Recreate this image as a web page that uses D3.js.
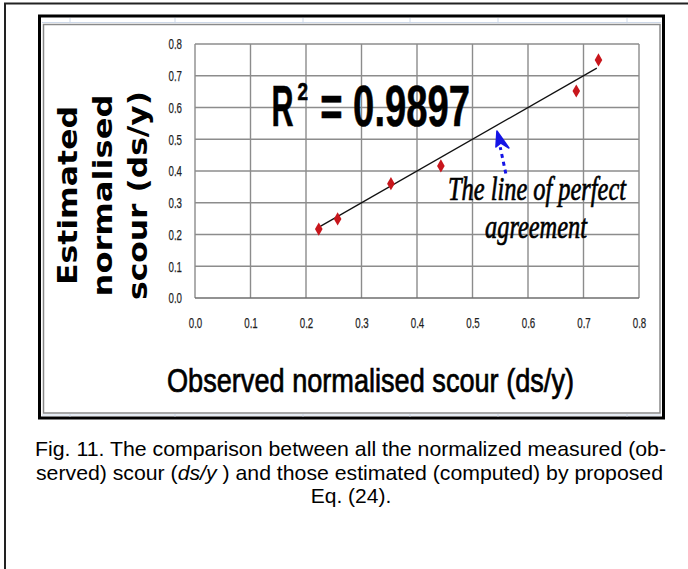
<!DOCTYPE html>
<html>
<head>
<meta charset="utf-8">
<script src="https://cdn.jsdelivr.net/npm/d3@7"></script>
<style>
    body { margin: 0; background: #fff; }
    svg { display: block; }
</style>
</head>
<body>
<div class="scourChart"></div>
<script>
// observed vs estimated normalised scour (ds/y)
var observed = [0.223, 0.257, 0.353, 0.443, 0.687, 0.727];
var estimated = [0.217, 0.249, 0.360, 0.416, 0.652, 0.750];
var tickValues = [0, 0.1, 0.2, 0.3, 0.4, 0.5, 0.6, 0.7, 0.8];
var perfectLine = [0.221, 0.724];
var r2Value = "0.9897";
var yTitleLines = ["Estimated", "normalised", "scour (ds/y)"];
var xTitle = "Observed normalised scour (ds/y)";
var noteLines = ["The line of perfect", "agreement"];

var width = 688, height = 569
    , plot = { left: 195, right: 639, top: 44, bottom: 298 };

var svg = d3.select(".scourChart").append("svg")
    .attr("width", width)
    .attr("height", height);

// page border (left + top only)
svg.append("path")
    .attr("d", "M5,569V3.5H688")
    .attr("fill", "none")
    .attr("stroke", "#222")
    .attr("stroke-width", 2);

// chart frame, thick black + thin grey inside
svg.append("rect")
    .attr("x", 39.5).attr("y", 16)
    .attr("width", 624).attr("height", 402)
    .attr("fill", "none")
    .attr("stroke", "#000")
    .attr("stroke-width", 3);
svg.append("rect")
    .attr("x", 43.5).attr("y", 24.5)
    .attr("width", 616.5).attr("height", 388.5)
    .attr("fill", "none")
    .attr("stroke", "#8a8a8a")
    .attr("stroke-width", 1.5);

// faint spreadsheet cell lines showing between the frames
var cellX = [70, 175, 303, 410, 498, 627];
const cells = svg.append("g")
    .attr("stroke", "#cdd8e8")
    .attr("stroke-width", 1);
cells.append("line").attr("x1", 42).attr("x2", 661).attr("y1", 22.5).attr("y2", 22.5);
cells.append("line").attr("x1", 42).attr("x2", 661).attr("y1", 415).attr("y2", 415);
cells.selectAll(".ct")
    .data(cellX)
    .enter().append("line")
    .attr("x1", d => d).attr("x2", d => d)
    .attr("y1", 18).attr("y2", 23.5);
cells.selectAll(".cb")
    .data(cellX)
    .enter().append("line")
    .attr("x1", d => d).attr("x2", d => d)
    .attr("y1", 414).attr("y2", 416.5);

var x = d3.scaleLinear()
    .domain([0, 0.8])
    .range([plot.left, plot.right]);
var y = d3.scaleLinear()
    .domain([0, 0.8])
    .range([plot.bottom, plot.top]);

// grid
const grid = svg.append("g")
    .attr("stroke", "#8c8c8c")
    .attr("stroke-width", 1.4);
grid.selectAll(".gx")
    .data(tickValues)
    .enter().append("line")
    .attr("x1", d => x(d)).attr("x2", d => x(d))
    .attr("y1", plot.top).attr("y2", plot.bottom);
grid.selectAll(".gy")
    .data(tickValues)
    .enter().append("line")
    .attr("x1", plot.left).attr("x2", plot.right)
    .attr("y1", d => y(d)).attr("y2", d => y(d))
    .attr("stroke", d => d === 0 ? "#6e6e6e" : null);

var fmt = d3.format(".1f");
var sansFont = "'Liberation Sans', Arial, sans-serif";

var yAxis = svg.append("g")
    .attr("transform", "translate(" + plot.left + ",0)")
    .call(d3.axisLeft(y).tickValues(tickValues).tickFormat(fmt).tickSize(0).tickPadding(13));
var xAxis = svg.append("g")
    .attr("transform", "translate(0," + plot.bottom + ")")
    .call(d3.axisBottom(x).tickValues(tickValues).tickFormat(fmt).tickSize(0).tickPadding(19));
[yAxis, xAxis].forEach(function (ax) {
    ax.select(".domain").remove();
    ax.selectAll("text")
        .attr("fill", "#1e1e1e")
        .attr("stroke", "#1e1e1e")
        .attr("stroke-width", 0.25)
        .style("font-family", sansFont)
        .style("font-size", "15px")
        .attr("textLength", 13.5)
        .attr("lengthAdjust", "spacingAndGlyphs");
});

// line of perfect agreement
svg.append("path")
    .datum(perfectLine)
    .attr("fill", "none")
    .attr("stroke", "#111")
    .attr("stroke-width", 1.3)
    .attr("d", d3.line().x(d => x(d)).y(d => y(d)));

// points
svg.append("g")
    .selectAll("path")
    .data(observed)
    .enter().append("path")
    .attr("transform", (d, i) => "translate(" + x(d) + "," + y(estimated[i]) + ")")
    .attr("d", d3.symbol().type(d3.symbolDiamond).size(50))
    .attr("fill", "#c8161c");

// R^2 label: R, superscript 2, then the value
var r2Base = y(0.543);
const r2 = svg.append("g")
    .attr("fill", "#000")
    .attr("stroke", "#000")
    .attr("stroke-width", 0.6)
    .style("font-family", sansFont)
    .style("font-weight", "bold");
r2.append("text")
    .attr("x", x(0.138)).attr("y", r2Base)
    .style("font-size", "58px")
    .attr("textLength", 22)
    .attr("lengthAdjust", "spacingAndGlyphs")
    .text("R");
r2.append("text")
    .attr("x", x(0.1845)).attr("y", r2Base - 25.5)
    .style("font-size", "23px")
    .attr("textLength", 10.5)
    .attr("lengthAdjust", "spacingAndGlyphs")
    .text("2");
r2.append("text")
    .attr("x", x(0.2255)).attr("y", r2Base)
    .style("font-size", "58px")
    .attr("textLength", 150)
    .attr("lengthAdjust", "spacingAndGlyphs")
    .text("= " + r2Value);

// annotation arrow (blue dotted)
var arrowTail = [0.560, 0.392], arrowTip = [0.544, 0.526];
svg.append("line")
    .attr("x1", x(arrowTail[0])).attr("y1", y(arrowTail[1]))
    .attr("x2", x(0.550)).attr("y2", y(0.475))
    .attr("stroke", "#1414e6")
    .attr("stroke-width", 3)
    .attr("stroke-dasharray", "4,4");
var tx = x(arrowTip[0]), ty = y(arrowTip[1]);
svg.append("path")
    .attr("d", "M" + tx + "," + ty
        + "L" + (tx + 12) + "," + (ty + 17)
        + "L" + (tx + 4) + "," + (ty + 12)
        + "L" + (tx - 1) + "," + (ty + 16)
        + "Z")
    .attr("fill", "#1414e6")
    .attr("stroke", "#1414e6")
    .attr("stroke-width", 1.5)
    .attr("stroke-linejoin", "round");

var noteFont = "'Liberation Serif', 'Times New Roman', serif";
var noteX = [448, 485], noteY = [200, 238], noteLen = [178, 102];
svg.append("g")
    .selectAll("text")
    .data(noteLines)
    .enter().append("text")
    .attr("x", (d, i) => noteX[i]).attr("y", (d, i) => noteY[i])
    .attr("fill", "#000")
    .attr("stroke", "#000")
    .attr("stroke-width", 0.7)
    .style("font-family", noteFont)
    .style("font-style", "italic")
    .style("font-size", "34px")
    .attr("textLength", (d, i) => noteLen[i])
    .attr("lengthAdjust", "spacingAndGlyphs")
    .text(d => d);

// y axis title
var yTitleLen = [179, 202, 209], yTitleBase = [77, 112, 147];
svg.append("g")
    .selectAll("text")
    .data(yTitleLines)
    .enter().append("text")
    .attr("transform", (d, i) => "translate(" + yTitleBase[i] + ",195.5) rotate(-90)")
    .attr("text-anchor", "middle")
    .style("font-family", "'DejaVu Sans', Verdana, sans-serif")
    .style("font-weight", "bold")
    .style("font-size", "27px")
    .attr("textLength", (d, i) => yTitleLen[i])
    .attr("lengthAdjust", "spacingAndGlyphs")
    .text(d => d);

// x axis title
svg.append("text")
    .attr("x", 167).attr("y", 392)
    .attr("fill", "#000")
    .attr("stroke", "#000")
    .attr("stroke-width", 0.7)
    .style("font-family", sansFont)
    .style("font-size", "33px")
    .attr("textLength", 407)
    .attr("lengthAdjust", "spacingAndGlyphs")
    .text(xTitle);

// caption
var capSize = "21px";
svg.append("text")
    .attr("x", 35).attr("y", 456)
    .style("font-family", sansFont).style("font-size", capSize)
    .attr("fill", "#000")
    .attr("textLength", 631)
    .attr("lengthAdjust", "spacingAndGlyphs")
    .text("Fig. 11. The comparison between all the normalized measured (ob-");
var cap2 = svg.append("text")
    .attr("x", 36).attr("y", 479.5)
    .style("font-family", sansFont).style("font-size", capSize)
    .attr("fill", "#000")
    .attr("textLength", 627)
    .attr("lengthAdjust", "spacingAndGlyphs");
cap2.append("tspan").text("served) scour (");
cap2.append("tspan").style("font-style", "italic").text("ds/y");
cap2.append("tspan").text(" ) and those estimated (computed) by proposed");
svg.append("text")
    .attr("x", 351).attr("y", 503)
    .attr("text-anchor", "middle")
    .style("font-family", sansFont).style("font-size", capSize)
    .attr("fill", "#000")
    .text("Eq. (24).");
</script>
</body>
</html>
